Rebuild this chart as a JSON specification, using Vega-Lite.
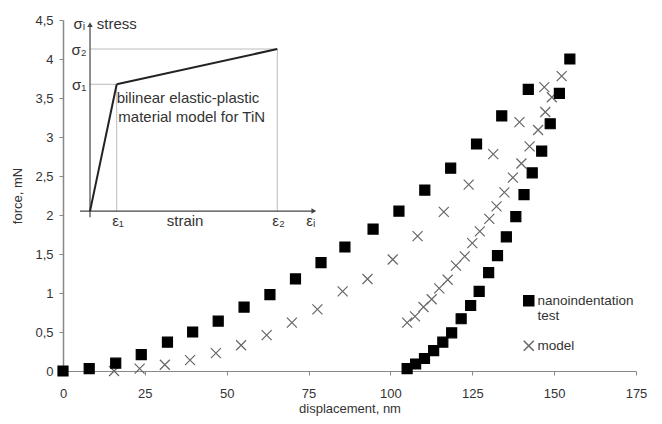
{
  "$schema": "https://vega.github.io/schema/vega-lite/v6.json",
  "width": 573,
  "height": 351,
  "autosize": {"type": "none"},
  "padding": {"left": 63, "top": 20, "right": 26, "bottom": 53},
  "background": "white",
  "config": {
    "view": {"stroke": null},
    "font": "Liberation Sans",
    "axis": {
      "labelFont": "Liberation Sans", "labelFontSize": 13, "labelColor": "#333",
      "titleFont": "Liberation Sans", "titleFontSize": 13, "titleFontWeight": "normal", "titleColor": "#333",
      "domain": true, "domainColor": "#888", "domainWidth": 1, "tickColor": "#888", "tickSize": 4, "grid": false, "labelFlush": false
    },
    "legend": {"labelFont": "Liberation Sans", "labelFontSize": 13.5, "labelColor": "#333"}
  },
  "datasets": {
    "points": [
      {"series": "model", "x": 15.6, "y": 0.0},
      {"series": "model", "x": 23.4, "y": 0.03},
      {"series": "model", "x": 31.1, "y": 0.08},
      {"series": "model", "x": 38.8, "y": 0.14},
      {"series": "model", "x": 46.7, "y": 0.23},
      {"series": "model", "x": 54.4, "y": 0.33},
      {"series": "model", "x": 62.2, "y": 0.46},
      {"series": "model", "x": 69.9, "y": 0.62},
      {"series": "model", "x": 77.7, "y": 0.79},
      {"series": "model", "x": 85.4, "y": 1.02},
      {"series": "model", "x": 93.0, "y": 1.18},
      {"series": "model", "x": 100.7, "y": 1.43},
      {"series": "model", "x": 108.3, "y": 1.73},
      {"series": "model", "x": 116.3, "y": 2.04},
      {"series": "model", "x": 123.9, "y": 2.39},
      {"series": "model", "x": 131.4, "y": 2.78},
      {"series": "model", "x": 139.4, "y": 3.19},
      {"series": "model", "x": 147.0, "y": 3.64},
      {"series": "model", "x": 152.3, "y": 3.78},
      {"series": "model", "x": 105.1, "y": 0.62},
      {"series": "model", "x": 107.5, "y": 0.70},
      {"series": "model", "x": 110.1, "y": 0.82},
      {"series": "model", "x": 112.6, "y": 0.92},
      {"series": "model", "x": 114.9, "y": 1.06},
      {"series": "model", "x": 117.5, "y": 1.17},
      {"series": "model", "x": 120.0, "y": 1.35},
      {"series": "model", "x": 122.7, "y": 1.47},
      {"series": "model", "x": 125.0, "y": 1.64},
      {"series": "model", "x": 127.3, "y": 1.79},
      {"series": "model", "x": 130.2, "y": 1.95},
      {"series": "model", "x": 132.4, "y": 2.11},
      {"series": "model", "x": 134.8, "y": 2.29},
      {"series": "model", "x": 137.4, "y": 2.48},
      {"series": "model", "x": 140.0, "y": 2.66},
      {"series": "model", "x": 142.5, "y": 2.88},
      {"series": "model", "x": 145.1, "y": 3.09},
      {"series": "model", "x": 147.3, "y": 3.32},
      {"series": "model", "x": 149.3, "y": 3.51},
      {"series": "nanoindentation test", "x": 0.0, "y": 0.0},
      {"series": "nanoindentation test", "x": 8.0, "y": 0.03},
      {"series": "nanoindentation test", "x": 16.1, "y": 0.10},
      {"series": "nanoindentation test", "x": 23.9, "y": 0.21},
      {"series": "nanoindentation test", "x": 31.9, "y": 0.37},
      {"series": "nanoindentation test", "x": 39.6, "y": 0.50},
      {"series": "nanoindentation test", "x": 47.4, "y": 0.64},
      {"series": "nanoindentation test", "x": 55.3, "y": 0.82},
      {"series": "nanoindentation test", "x": 63.2, "y": 0.98},
      {"series": "nanoindentation test", "x": 71.0, "y": 1.18},
      {"series": "nanoindentation test", "x": 78.8, "y": 1.39},
      {"series": "nanoindentation test", "x": 86.1, "y": 1.59},
      {"series": "nanoindentation test", "x": 94.7, "y": 1.82},
      {"series": "nanoindentation test", "x": 102.6, "y": 2.05},
      {"series": "nanoindentation test", "x": 110.5, "y": 2.32},
      {"series": "nanoindentation test", "x": 118.4, "y": 2.60},
      {"series": "nanoindentation test", "x": 126.3, "y": 2.91},
      {"series": "nanoindentation test", "x": 134.0, "y": 3.27},
      {"series": "nanoindentation test", "x": 142.1, "y": 3.61},
      {"series": "nanoindentation test", "x": 154.8, "y": 4.00},
      {"series": "nanoindentation test", "x": 105.1, "y": 0.03},
      {"series": "nanoindentation test", "x": 107.7, "y": 0.09},
      {"series": "nanoindentation test", "x": 110.4, "y": 0.16},
      {"series": "nanoindentation test", "x": 113.2, "y": 0.26},
      {"series": "nanoindentation test", "x": 116.0, "y": 0.37},
      {"series": "nanoindentation test", "x": 118.7, "y": 0.49},
      {"series": "nanoindentation test", "x": 121.6, "y": 0.67},
      {"series": "nanoindentation test", "x": 124.5, "y": 0.84},
      {"series": "nanoindentation test", "x": 127.1, "y": 1.02},
      {"series": "nanoindentation test", "x": 130.0, "y": 1.26},
      {"series": "nanoindentation test", "x": 132.7, "y": 1.48},
      {"series": "nanoindentation test", "x": 135.4, "y": 1.72},
      {"series": "nanoindentation test", "x": 138.3, "y": 1.98},
      {"series": "nanoindentation test", "x": 140.8, "y": 2.26},
      {"series": "nanoindentation test", "x": 143.3, "y": 2.54},
      {"series": "nanoindentation test", "x": 146.2, "y": 2.82},
      {"series": "nanoindentation test", "x": 148.8, "y": 3.17},
      {"series": "nanoindentation test", "x": 151.6, "y": 3.56}
    ],
    "insetAxes": [
      {"x": 5.2, "y": 2.05, "x2": 77.0, "y2": 2.05},
      {"x": 8.25, "y": 1.97, "x2": 8.25, "y2": 4.42}
    ],
    "insetGuides": [
      {"x": 8.25, "y": 3.676, "x2": 16.4, "y2": 3.676},
      {"x": 8.25, "y": 4.128, "x2": 65.45, "y2": 4.128},
      {"x": 16.4, "y": 2.05, "x2": 16.4, "y2": 3.676},
      {"x": 65.45, "y": 2.05, "x2": 65.45, "y2": 4.128}
    ],
    "insetCurve": [
      {"x": 8.25, "y": 2.05, "x2": 16.4, "y2": 3.676},
      {"x": 16.4, "y": 3.676, "x2": 65.45, "y2": 4.128}
    ],
    "insetArrows": [
      {"x": 76.6, "y": 2.05, "dir": "triangle-right"},
      {"x": 8.25, "y": 4.44, "dir": "triangle-up"}
    ],
    "insetTextCenter": [
      {"x": 5.0, "y": 4.45, "label": "σᵢ"},
      {"x": 4.9, "y": 4.115, "label": "σ₂"},
      {"x": 4.9, "y": 3.67, "label": "σ₁"},
      {"x": 16.8, "y": 1.92, "label": "ε₁"},
      {"x": 37.3, "y": 1.92, "label": "strain"},
      {"x": 65.8, "y": 1.92, "label": "ε₂"},
      {"x": 75.7, "y": 1.92, "label": "εᵢ"}
    ],
    "insetTextLeft": [
      {"x": 10.3, "y": 4.45, "label": "stress"},
      {"x": 16.4, "y": 3.50, "label": "bilinear elastic-plastic"},
      {"x": 16.9, "y": 3.255, "label": "material model for TiN"}
    ]
  },
  "encoding": {
    "x": {"field": "x", "type": "quantitative", "scale": {"domain": [0, 175], "nice": false, "zero": false},
      "axis": {"values": [0, 25, 50, 75, 100, 125, 150, 175], "title": "displacement, nm", "labelPadding": 12, "titlePadding": 2, "labelFlush": false}},
    "y": {"field": "y", "type": "quantitative", "scale": {"domain": [0, 4.5], "nice": false, "zero": false},
      "axis": {"values": [0, 0.5, 1, 1.5, 2, 2.5, 3, 3.5, 4, 4.5], "title": "force, mN", "domain": true, "domainColor": "#888", "domainWidth": 1.5, "ticks": true, "labelOverlap": false, "labelBound": false, "labelFlush": false, "labelExpr": "replace(toString(datum.value), '.', ',')", "labelPadding": 6, "titlePadding": 10}}
  },
  "layer": [
    {
      "data": {"name": "insetGuides"},
      "mark": {"type": "rule", "color": "#aaa", "strokeWidth": 0.8},
      "encoding": {"x2": {"field": "x2"}, "y2": {"field": "y2"}}
    },
    {
      "data": {"name": "insetAxes"},
      "mark": {"type": "rule", "color": "#444", "strokeWidth": 1.2},
      "encoding": {"x2": {"field": "x2"}, "y2": {"field": "y2"}}
    },
    {
      "data": {"name": "insetCurve"},
      "mark": {"type": "rule", "color": "#222", "strokeWidth": 2},
      "encoding": {"x2": {"field": "x2"}, "y2": {"field": "y2"}}
    },
    {
      "data": {"name": "insetArrows"},
      "transform": [{"filter": "datum.dir == 'triangle-right'"}],
      "mark": {"type": "point", "shape": "triangle-right", "filled": true, "color": "#444", "size": 30, "opacity": 1}
    },
    {
      "data": {"name": "insetArrows"},
      "transform": [{"filter": "datum.dir == 'triangle-up'"}],
      "mark": {"type": "point", "shape": "triangle-up", "filled": true, "color": "#444", "size": 30, "opacity": 1}
    },
    {
      "data": {"name": "insetTextCenter"},
      "mark": {"type": "text", "align": "center", "baseline": "middle", "fontSize": 15, "color": "#333", "font": "Liberation Sans"},
      "encoding": {"text": {"field": "label"}}
    },
    {
      "data": {"name": "insetTextLeft"},
      "mark": {"type": "text", "align": "left", "baseline": "middle", "fontSize": 15, "color": "#333", "font": "Liberation Sans"},
      "encoding": {"text": {"field": "label"}}
    },
    {
      "data": {"name": "points"},
      "mark": {"type": "point", "size": 100, "strokeWidth": 1.2, "opacity": 1},
      "encoding": {
        "shape": {"field": "series", "type": "nominal", "scale": {"domain": ["nanoindentation test", "model"], "range": ["square", "M-1,-1L1,1M-1,1L1,-1"]},
          "legend": {"title": null, "orient": "none", "legendX": 459, "legendY": 274, "padding": 0, "labelOffset": 2, "rowPadding": 14, "symbolSize": 100,
            "labelExpr": "datum.label == 'nanoindentation test' ? ['nanoindentation', 'test'] : datum.label"}},
        "fill": {"field": "series", "type": "nominal", "scale": {"domain": ["nanoindentation test", "model"], "range": ["#000000", "transparent"]}},
        "stroke": {"field": "series", "type": "nominal", "scale": {"domain": ["nanoindentation test", "model"], "range": ["#000000", "#666666"]}}
      }
    }
  ]
}
